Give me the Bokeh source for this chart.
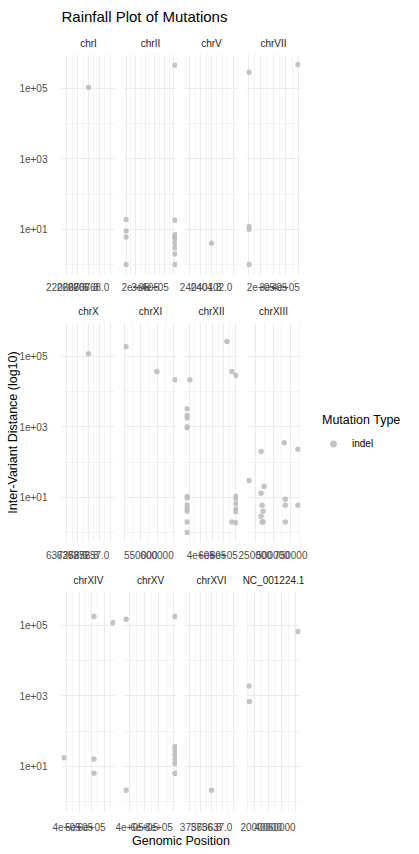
import math

from bokeh.plotting import figure
from bokeh.layouts import gridplot, column, row
from bokeh.models import Range1d, FixedTicker, Label
from bokeh.embed import file_html
from bokeh.resources import INLINE

FONT = "Liberation Sans"
POINT = "#bebebe"
GRID = "#ebebeb"

# facets, four per row
chroms = ["chrI", "chrII", "chrV", "chrVII",
          "chrX", "chrXI", "chrXII", "chrXIII",
          "chrXIV", "chrXV", "chrXVI", "NC_001224.1"]

# variant positions per chromosome
positions = {
    "chrI": [220668],
    "chrII": [99480, 99499, 99508, 99514, 611000, 611018, 611025, 611031,
              611036, 611040, 611043, 611045, 611046],
    "chrV": [240402],
    "chrVII": [105000, 105012, 105022, 105023, 498000],
    "chrX": [637257],
    "chrXI": [505000, 599500, 655000],
    "chrXII": [161000, 161021, 161039, 161049, 161050, 161060, 161070, 161076,
               161081, 161085, 161087, 161088, 213000, 855400, 942200, 942202,
               1012000, 1012011, 1012020, 1012027, 1012032, 1012036, 1012038],
    "chrXIII": [162000, 332400, 332413, 332416, 346200, 346202, 360700, 360702,
                374500, 658100, 672600, 672606, 672608, 852000, 852006],
    "chrXIV": [380000, 617900, 617916, 617922, 770000],
    "chrXV": [352000, 352002, 1020000, 1020036, 1020065, 1020087, 1020103,
              1020115, 1020121],
    "chrXVI": [375637],
    "NC_001224.1": [12000, 12690, 84000],
}

# inter-variant distance (bp) for the same variants
distances = {
    "chrI": [107000],
    "chrII": [19, 9, 6, 1, 460000, 18, 7, 6, 5.5, 4, 3, 2, 1],
    "chrV": [4],
    "chrVII": [290000, 12, 10, 1, 480000],
    "chrX": [119000],
    "chrXI": [190000, 37600, 21900],
    "chrXII": [3300, 2100, 1800, 1000, 950, 10.5, 9.6, 6, 4.8, 4, 2, 1,
               22000, 266000, 37600, 2, 29000, 10.7, 9.2, 6.6, 4.6, 3.9, 1.9],
    "chrXIII": [30, 200, 13, 2.9, 5.9, 2, 4, 2, 20.4, 355, 8.8, 5.9, 2, 230, 5.9],
    "chrXIV": [17.5, 180000, 16, 6.3, 120000],
    "chrXV": [150000, 2.1, 180000, 36, 29, 22, 16, 12, 6.3],
    "chrXVI": [2.1],
    "NC_001224.1": [1900, 690, 68000],
}

mutation_types = ["indel"]

# x breaks and their labels, one list per facet (free x scales)
x_breaks = [
    [220667.6, 220667.8, 220668.0, 220668.2, 220668.4],
    [100000, 200000, 300000, 400000, 500000, 600000],
    [240401.6, 240401.8, 240402.0, 240402.2, 240402.4],
    [100000, 200000, 300000, 400000, 500000],
    [637256.6, 637256.8, 637257.0, 637257.2, 637257.4],
    [500000, 550000, 600000, 650000],
    [200000, 400000, 600000, 800000, 1000000],
    [250000, 500000, 750000],
    [400000, 500000, 600000, 700000],
    [400000, 600000, 800000, 1000000],
    [375636.6, 375636.8, 375637.0, 375637.2, 375637.4],
    [20000, 40000, 60000, 80000],
]
x_labels = [
    ["220667.6", "220667.8", "220668.0", "220668.2", "220668.4"],
    ["1e+05", "2e+05", "3e+05", "4e+05", "5e+05", "6e+05"],
    ["240401.6", "240401.8", "240402.0", "240402.2", "240402.4"],
    ["1e+05", "2e+05", "3e+05", "4e+05", "5e+05"],
    ["637256.6", "637256.8", "637257.0", "637257.2", "637257.4"],
    ["500000", "550000", "600000", "650000"],
    ["2e+05", "4e+05", "6e+05", "8e+05", "1e+06"],
    ["250000", "500000", "750000"],
    ["4e+05", "5e+05", "6e+05", "7e+05"],
    ["4e+05", "6e+05", "8e+05", "1e+06"],
    ["375636.6", "375636.8", "375637.0", "375637.2", "375637.4"],
    ["20000", "40000", "60000", "80000"],
]

y_breaks = [10, 1000, 100000]
y_minor = [1, 100, 10000]
y_labels = ["1e+01", "1e+03", "1e+05"]

# shared log y range with 5% expansion
all_d = [d for ch in chroms for d in distances[ch]]
lmin, lmax = math.log10(min(all_d)), math.log10(max(all_d))
lpad = 0.05 * (lmax - lmin)
y_lo, y_hi = 10 ** (lmin - lpad), 10 ** (lmax + lpad)

FRAME_W, FRAME_H = 54, 220
border_left = [61, 8, 7, 8]
border_right = [0, 0, 0, 8]
border_top = [23, 24, 24]
border_bottom = [24, 25, 22]
label_standoff = [2, 2, 5]


def x_limits(xs):
    lo, hi = min(xs), max(xs)
    if lo == hi:
        return lo - 0.5, hi + 0.5
    pad = 0.05 * (hi - lo)
    return lo - pad, hi + pad


def minor_of(majors, lo, hi):
    step = majors[1] - majors[0]
    cands = [majors[0] - step / 2] + [m + step / 2 for m in majors]
    tol = step * 1e-6
    return [v for v in cands if lo - tol <= v <= hi + tol]


def fitting(majors, labels, lo, hi, c):
    # keep only the labels that stay inside this panel's own canvas
    canvas_w = border_left[c] + FRAME_W + border_right[c]
    keep = []
    for b, lab in zip(majors, labels):
        cx = border_left[c] + (b - lo) / (hi - lo) * FRAME_W
        hw = 0.556 * 10 * len(lab) / 2
        if cx - hw >= 0 and cx + hw <= canvas_w:
            keep.append((b, lab))
    return keep


def make_panel(i):
    name = chroms[i]
    r, c = divmod(i, 4)
    xs, ys = positions[name], distances[name]
    lo, hi = x_limits(xs)

    p = figure(frame_width=FRAME_W, frame_height=FRAME_H,
               x_range=Range1d(lo, hi), y_range=Range1d(y_lo, y_hi),
               y_axis_type="log", title=name,
               toolbar_location=None, output_backend="svg",
               min_border_left=border_left[c], min_border_right=border_right[c],
               min_border_top=border_top[r], min_border_bottom=border_bottom[r])
    p.outline_line_color = None

    p.title.align = "center"
    p.title.text_font = FONT
    p.title.text_font_size = "10px"
    p.title.text_font_style = "normal"
    p.title.text_color = "#1a1a1a"
    p.title.standoff = 11

    p.xgrid.ticker = FixedTicker(ticks=x_breaks[i],
                                 minor_ticks=minor_of(x_breaks[i], lo, hi))
    shown = fitting(x_breaks[i], x_labels[i], lo, hi, c)
    p.xaxis.ticker = FixedTicker(ticks=[b for b, _ in shown], minor_ticks=[])
    p.xaxis.major_label_overrides = dict(shown)

    yt = FixedTicker(ticks=y_breaks, minor_ticks=y_minor)
    p.yaxis.ticker = yt
    p.ygrid.ticker = yt
    p.yaxis.major_label_overrides = dict(zip(y_breaks, y_labels))
    if c != 0:
        p.yaxis.visible = False

    for ax in (p.xaxis, p.yaxis):
        ax.axis_line_color = None
        ax.major_tick_line_color = None
        ax.minor_tick_line_color = None
        ax.major_label_text_font = FONT
        ax.major_label_text_font_size = "10px"
        ax.major_label_text_color = "#4d4d4d"
    p.xaxis.major_label_standoff = label_standoff[r]
    p.yaxis.major_label_standoff = 8

    if i == 4:
        p.yaxis.axis_label = "Inter-Variant Distance (log10)"
        p.yaxis.axis_label_text_font = FONT
        p.yaxis.axis_label_text_font_size = "12.5px"
        p.yaxis.axis_label_text_font_style = "normal"
        p.yaxis.axis_label_text_color = "#000000"
        p.yaxis.axis_label_standoff = -4

    for g in (p.xgrid, p.ygrid):
        g.grid_line_color = GRID
        g.grid_line_width = 1.1
        g.minor_grid_line_color = GRID
        g.minor_grid_line_width = 0.55

    p.scatter(x=xs, y=ys, size=5.5, fill_color=POINT, fill_alpha=0.9,
              line_color=None)
    return p


panels = [make_panel(i) for i in range(len(chroms))]
grid = gridplot([panels[0:4], panels[4:8], panels[8:12]], toolbar_location=None)

LEFT_W = sum(border_left) + 4 * FRAME_W + sum(border_right)
SIDE_W = 411 - LEFT_W
HEAD_H, FOOT_H = 30, 20
TOTAL_H = HEAD_H + 3 * FRAME_H + sum(border_top) + sum(border_bottom) + FOOT_H


def blank(w, h):
    f = figure(width=w, height=h, x_range=(0, 1), y_range=(0, 1),
               toolbar_location=None, output_backend="svg", min_border=0,
               x_axis_location=None, y_axis_location=None)
    f.outline_line_color = None
    f.grid.visible = False
    return f


head = blank(LEFT_W, HEAD_H)
head.add_layout(Label(x=61, y=14, x_units="screen", y_units="screen",
                      text="Rainfall Plot of Mutations", text_font=FONT,
                      text_font_size="15px", text_baseline="middle",
                      text_color="#000000"))

foot = blank(LEFT_W, FOOT_H)
foot.add_layout(Label(x=180.5, y=13, x_units="screen", y_units="screen",
                      text="Genomic Position", text_font=FONT,
                      text_font_size="12.5px", text_baseline="middle",
                      text_align="center", text_color="#000000"))

# legend column: a key-only renderer (no drawn points) carries the legend
side = blank(SIDE_W, TOTAL_H)
side.scatter(x=[float("nan")], y=[float("nan")], size=5.5, fill_color=POINT,
             fill_alpha=0.9, line_color=None, legend_label=mutation_types[0])
leg = side.legend[0]
leg.title = "Mutation Type"
leg.title_text_font = FONT
leg.title_text_font_size = "12.5px"
leg.title_text_font_style = "normal"
leg.title_text_color = "#000000"
leg.title_standoff = 8
leg.label_text_font = FONT
leg.label_text_font_size = "10px"
leg.label_text_color = "#000000"
leg.glyph_width = 22
leg.glyph_height = 17
leg.label_height = 17
leg.label_standoff = 8
leg.padding = 0
leg.margin = 0
leg.spacing = 0
leg.border_line_color = None
leg.background_fill_alpha = 0
leg.location = (322 - LEFT_W, 400)

layout = row(column(head, grid, foot), side)

open("out.html", "w").write(file_html(layout, INLINE))
